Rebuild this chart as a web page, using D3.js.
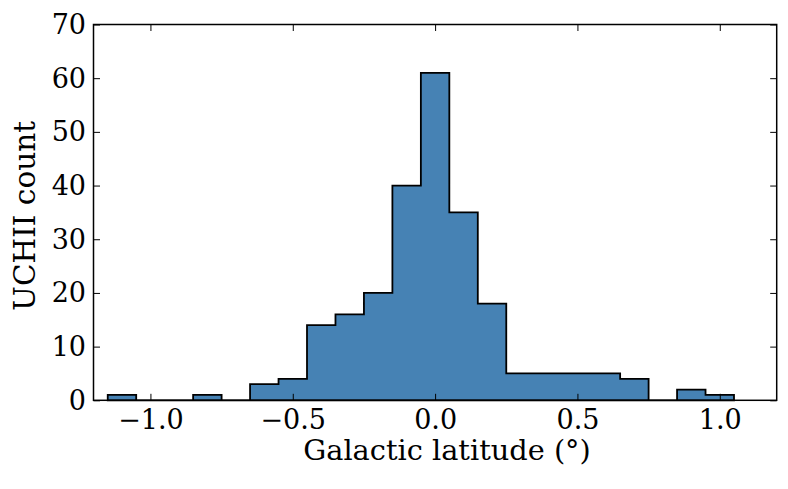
<!DOCTYPE html>
<html>
<head>
<meta charset="utf-8">
<script src="https://cdn.jsdelivr.net/npm/d3@7"></script>
<style>
  html, body { margin: 0; padding: 0; background: #fff; }
  text { font-family: "DejaVu Serif", serif; fill: #000; }
</style>
</head>
<body>
<svg id="chart" width="788" height="489"></svg>
<script>
// ---- data ----
const binStart = -1.15;
const binWidth = 0.1;
const counts = [1, 0, 0, 1, 0, 3, 4, 14, 16, 20, 40, 61, 35, 18, 5, 5, 5, 5, 4, 0, 2, 1];
const xTicks = [-1.0, -0.5, 0.0, 0.5, 1.0];
const yTicks = [0, 10, 20, 30, 40, 50, 60, 70];
const xDomain = [-1.2, 1.2];
const yDomain = [0, 70];
const xLabel = "Galactic latitude (°)";
const yLabel = "UCHII count";

// ---- layout ----
const svg = d3.select("#chart");
const L = 93.5, R = 776.7, T = 24.5, B = 400.3;
const x = d3.scaleLinear().domain(xDomain).range([L, R]);
const y = d3.scaleLinear().domain(yDomain).range([B, T]);

// step outline points
const pts = [[binStart, 0]];
counts.forEach((c, i) => pts.push([binStart + i * binWidth, c]));
const endEdge = binStart + counts.length * binWidth;
pts.push([endEdge, counts[counts.length - 1]]);
pts.push([endEdge, 0]);

const line = d3.line().x(d => x(d[0])).y(d => y(d[1])).curve(d3.curveStepAfter);

svg.append("path")
  .attr("d", line(pts) + "Z")
  .attr("fill", "#4682b4")
  .attr("stroke", "#000")
  .attr("stroke-width", 1.8)
  .attr("stroke-linejoin", "miter");

// ticks (inward, all four sides)
const tl = 6.5;
const fmtX = d => (d < 0 ? "\u2212" : "") + Math.abs(d).toFixed(1);
const tickFont = 27;

const gBottom = svg.append("g").attr("transform", `translate(0,${B})`)
  .call(d3.axisBottom(x).tickValues(xTicks).tickSizeInner(-tl).tickSizeOuter(0).tickFormat(fmtX));
const gTop = svg.append("g").attr("transform", `translate(0,${T})`)
  .call(d3.axisTop(x).tickValues(xTicks).tickSizeInner(-tl).tickSizeOuter(0).tickFormat(""));
const gLeft = svg.append("g").attr("transform", `translate(${L},0)`)
  .call(d3.axisLeft(y).tickValues(yTicks).tickSizeInner(-tl).tickSizeOuter(0).tickPadding(7.5).tickFormat(d3.format("d")));
const gRight = svg.append("g").attr("transform", `translate(${R},0)`)
  .call(d3.axisRight(y).tickValues(yTicks).tickSizeInner(-tl).tickSizeOuter(0).tickFormat(""));

[gBottom, gTop, gLeft, gRight].forEach(g => {
  g.attr("font-family", "DejaVu Serif");
  g.select(".domain").remove();
  g.selectAll(".tick line").attr("stroke", "#000").attr("stroke-width", 1);
  g.selectAll("text").attr("font-family", "DejaVu Serif").attr("font-size", tickFont).attr("fill", "#000");
});
gBottom.selectAll("text").attr("dy", null).attr("y", 29);
gLeft.selectAll("text").attr("dy", "0.33em");

// frame
svg.append("rect")
  .attr("x", L).attr("y", T).attr("width", R - L).attr("height", B - T)
  .attr("fill", "none").attr("stroke", "#000").attr("stroke-width", 1.5);

// axis labels
svg.append("text")
  .attr("x", 447).attr("y", 460)
  .attr("text-anchor", "middle")
  .attr("font-family", "DejaVu Serif")
  .attr("font-size", 28.8)
  .text(xLabel);

svg.append("text")
  .attr("transform", `translate(35,216) rotate(-90)`)
  .attr("text-anchor", "middle")
  .attr("font-family", "DejaVu Serif")
  .attr("font-size", 29.5)
  .text(yLabel);
</script>
</body>
</html>
